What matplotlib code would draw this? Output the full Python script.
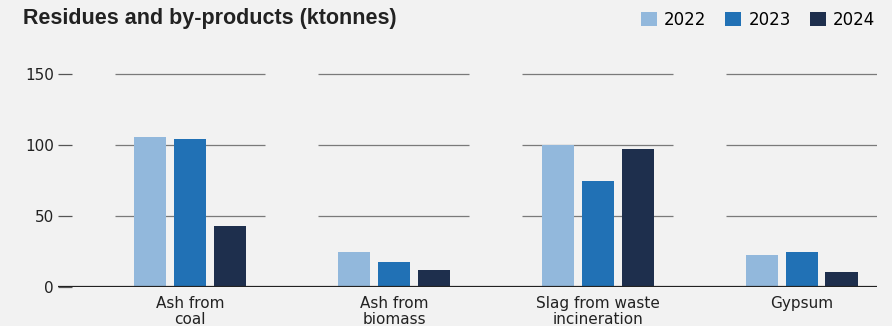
import numpy as np
import matplotlib
matplotlib.use("Agg")
import matplotlib.pyplot as plt

categories = ["Ash from\ncoal", "Ash from\nbiomass", "Slag from waste\nincineration", "Gypsum"]
years = ["2022", "2023", "2024"]
values_2022 = [106, 25, 100, 23]
values_2023 = [104, 18, 75, 25]
values_2024 = [43, 12, 97, 11]
yticks = [0, 50, 100, 150]

colors = ["#92b8dc", "#2171b5", "#1e2f4d"]
bg = "#f2f2f2"

plt.rcParams["font.family"] = ["DejaVu Sans"]

fig = plt.figure(figsize=(8.92, 3.26), dpi=100, facecolor=bg)
ax = fig.add_axes([58 / 892, 0.1187, 819 / 892, 0.6976])
ax.set_facecolor(bg)

x = np.arange(len(categories))
bar_w = 0.157
offset = 0.194

# grid segments only above each group
for y in yticks[1:]:
    ax.hlines([y] * len(x), x - 0.37, x + 0.37, color="#7a7a7a", linewidth=0.9, zorder=1)

for i, (vals, col, lab) in enumerate(zip([values_2022, values_2023, values_2024], colors, years)):
    ax.bar(x + (i - 1) * offset, vals, width=bar_w, color=col, label=lab, zorder=2)

ax.axhline(0, color="#222222", linewidth=1.6, zorder=3)

ax.set_xlim(-0.647, 3.368)
ax.set_ylim(0, 160)
ax.set_yticks(yticks)
ax.set_xticks(x)
ax.set_xticklabels(categories, fontsize=11, color="#222222", linespacing=1.05)
ax.tick_params(axis="x", length=0, pad=6.5)
ax.tick_params(axis="y", direction="in", length=10, width=0.9, color="#555555",
               labelsize=11, labelcolor="#222222", pad=3)
for s in ax.spines.values():
    s.set_visible(False)

fig.text(23 / 892, 0.943, "Residues and by-products (ktonnes)", fontsize=15.5,
         fontweight="bold", family="Liberation Sans", color="#222222", va="center")

fig.legend(loc="center right", bbox_to_anchor=(875 / 892, 0.939), ncol=3, frameon=False,
           fontsize=12, handlelength=0.96, handleheight=0.96, handletextpad=0.42,
           columnspacing=1.14, borderaxespad=0, borderpad=0)

fig.savefig("out.png", dpi=100, facecolor=bg)
